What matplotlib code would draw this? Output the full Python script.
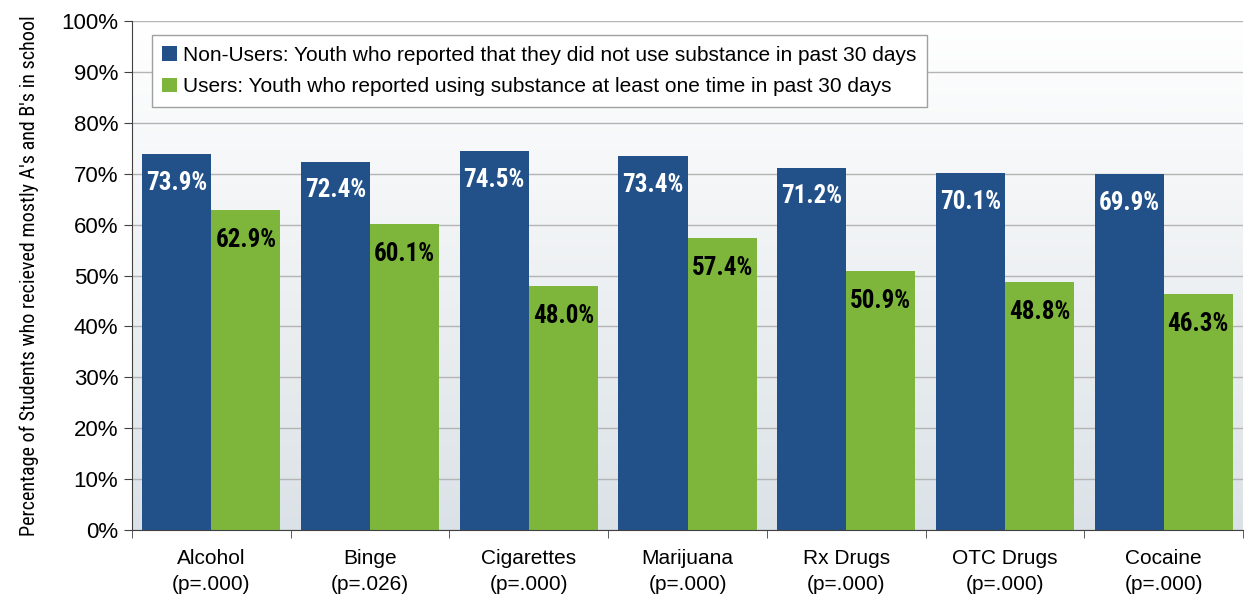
import numpy as np
import matplotlib.pyplot as plt
from matplotlib import font_manager
from matplotlib.colors import LinearSegmentedColormap

categories = ['Alcohol', 'Binge', 'Cigarettes', 'Marijuana', 'Rx Drugs', 'OTC Drugs', 'Cocaine']
p_values = ['(p=.000)', '(p=.026)', '(p=.000)', '(p=.000)', '(p=.000)', '(p=.000)', '(p=.000)']
non_users = [73.9, 72.4, 74.5, 73.4, 71.2, 70.1, 69.9]
users = [62.9, 60.1, 48.0, 57.4, 50.9, 48.8, 46.3]
legend_labels = ['Non-Users: Youth who reported that they did not use substance in past 30 days',
                 'Users: Youth who reported using substance at least one time in past 30 days']

names = {f.name for f in font_manager.fontManager.ttflist}
narrow = 'Liberation Sans'
for cand in ['Liberation Sans Narrow', 'Roboto Condensed', 'Open Sans Condensed']:
    if cand in names:
        narrow = cand
        break
plt.rcParams['font.family'] = ['Liberation Sans', 'DejaVu Sans']

blue = '#22518a'
green = '#7db63a'

fig = plt.figure(figsize=(12.47, 6.03), dpi=100)
ax = fig.add_axes([0.1059, 0.121, 0.8909, 0.844])

# gradient background: light gray at bottom fading to white at top
grad = np.linspace(0, 1, 256).reshape(-1, 1)
cmap = LinearSegmentedColormap.from_list('bg', ['#dbe2e7', '#eef1f3', '#ffffff'])
ax.imshow(grad, cmap=cmap, aspect='auto', origin='lower',
          extent=[-0.5, len(categories) - 0.5, 0, 100], zorder=0)

x = np.arange(len(categories))
w = 0.435
b1 = ax.bar(x - w / 2, non_users, w, color=blue, label=legend_labels[0], zorder=2)
b2 = ax.bar(x + w / 2, users, w, color=green, label=legend_labels[1], zorder=2)

lab_size = 17 if narrow == 'Liberation Sans' else 18
for rect, v in zip(b1, non_users):
    ax.annotate(f'{v:.1f}%', (rect.get_x() + rect.get_width() / 2, v), xytext=(0, -12),
                textcoords='offset points', ha='center', va='top', color='white',
                fontsize=lab_size, fontweight='bold', family=narrow, zorder=3)
for rect, v in zip(b2, users):
    ax.annotate(f'{v:.1f}%', (rect.get_x() + rect.get_width() / 2, v), xytext=(0, -13),
                textcoords='offset points', ha='center', va='top', color='black',
                fontsize=lab_size, fontweight='bold', family=narrow, zorder=3)

ax.set_xlim(-0.5, len(categories) - 0.5)
ax.set_ylim(0, 100)
ax.set_yticks(np.arange(0, 101, 10))
ax.set_yticklabels([f'{t}%' for t in range(0, 101, 10)], fontsize=16)
ax.yaxis.grid(True, color='#b4b4b4', linewidth=1, zorder=1)
ax.set_axisbelow(True)

ax.set_xticks(x)
ax.set_xticklabels([f'{c}\n{p}' for c, p in zip(categories, p_values)], fontsize=15,
                   linespacing=1.45)
ax.tick_params(axis='x', length=0, pad=14)
ax.set_xticks(np.arange(-0.5, len(categories) + 0.5, 1), minor=True)
ax.tick_params(axis='x', which='minor', length=6, color='#404040')
ax.tick_params(axis='y', length=6, color='#404040', pad=4)

for side in ['top', 'right']:
    ax.spines[side].set_visible(False)
ax.spines['left'].set_color('#404040')
ax.spines['bottom'].set_color('#404040')

ax.set_ylabel("Percentage of Students who recieved mostly A's and B's in school",
              fontsize=14.5, family=narrow, labelpad=16)

leg = ax.legend(loc='upper left', bbox_to_anchor=(0.018, 0.972), fontsize=15,
                frameon=True, fancybox=False, edgecolor='#a0a0a0', framealpha=1,
                handlelength=0.7, handleheight=0.7, handletextpad=0.3, borderpad=0.5,
                labelspacing=0.6, borderaxespad=0)
leg.get_frame().set_linewidth(1)

fig.savefig('out.png', dpi=100)
